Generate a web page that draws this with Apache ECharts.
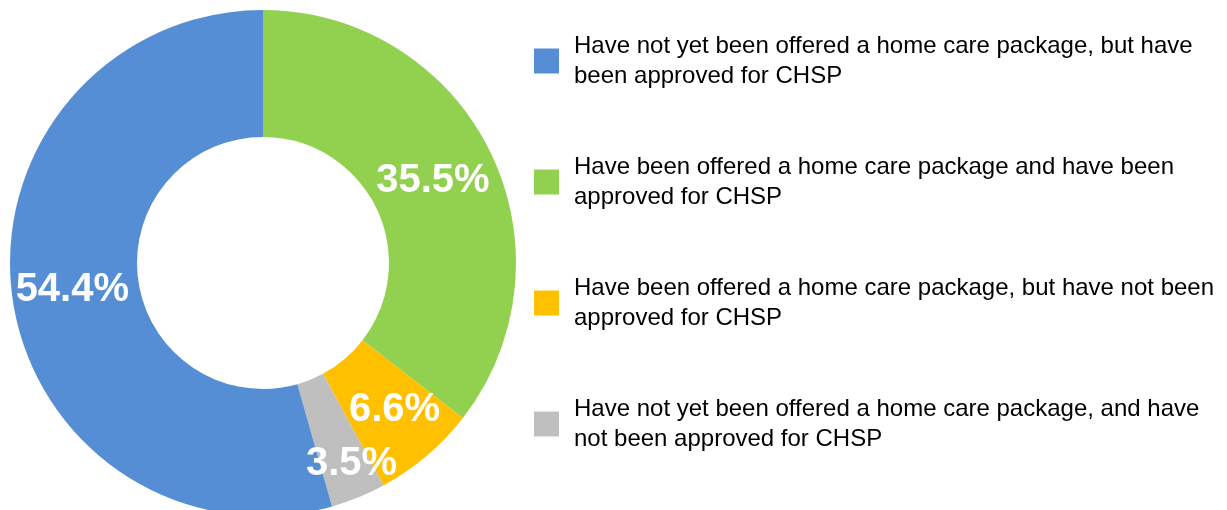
<!DOCTYPE html>
<html>
<head>
<meta charset="utf-8">
<script src="https://cdn.jsdelivr.net/npm/echarts@6/dist/echarts.min.js"></script>
<style>
    html, body { margin: 0; padding: 0; background: #fff; }
    #chart { width: 1227px; height: 510px; }
</style>
</head>
<body>
<div id="chart"></div>
<script>
// legend order (as in the reference)
const categories = [
    'Have not yet been offered a home care package, but have been approved for CHSP',
    'Have been offered a home care package and have been approved for CHSP',
    'Have been offered a home care package, but have not been approved for CHSP',
    'Have not yet been offered a home care package, and have not been approved for CHSP',
];
const values = [54.4, 35.5, 6.6, 3.5];
const colors = ['#558ED5', '#92D050', '#FFC000', '#BFBFBF'];
// slices run clockwise from 12 o'clock in this order
const sliceOrder = [1, 2, 3, 0];

// simple word wrap for the legend text
function wrap(text, maxChars) {
    let lines = [], line = '';
    text.split(' ').forEach(w => {
        if (line && (line + ' ' + w).length > maxChars) {
            lines.push(line);
            line = w;
        } else {
            line = line ? line + ' ' + w : w;
        }
    });
    lines.push(line);
    return lines.join('\n');
}

let myChart = echarts.init(document.getElementById('chart'));
myChart.setOption({
    animation: false,
    legend: {
        orient: 'vertical',
        left: 529,
        top: 24,
        itemWidth: 25,
        itemHeight: 25,
        itemGap: 57,
        icon: 'rect',
        data: categories,
        formatter: name => wrap(name, 56),
        textStyle: {
            fontFamily: 'Liberation Sans',
            fontSize: 24,
            lineHeight: 30,
            color: '#000',
            padding: [4, 0, 0, 10],
        },
    },
    series: [
        {
            type: 'pie',
            center: [263, 263],
            radius: [126, 253],
            startAngle: 90,
            clockwise: true,
            avoidLabelOverlap: false,
            label: {
                show: true,
                position: 'inside',
                formatter: p => p.value.toFixed(1) + '%',
                color: '#fff',
                fontFamily: 'Liberation Sans',
                fontWeight: 'bold',
                fontSize: 40,
            },
            labelLine: { show: false },
            labelLayout: function (params) {
                // Excel nudged the labels a little
                if (params.dataIndex === 0) return { dx: -3, dy: 3 };
                if (params.dataIndex === 1) return { dx: 7, dy: 0 };
                if (params.dataIndex === 2) return { dx: 16, dy: 23 };
                return {};
            },
            data: sliceOrder.map(i => ({
                name: categories[i],
                value: values[i],
                itemStyle: { color: colors[i] },
            })),
        },
    ],
});
</script>
</body>
</html>
